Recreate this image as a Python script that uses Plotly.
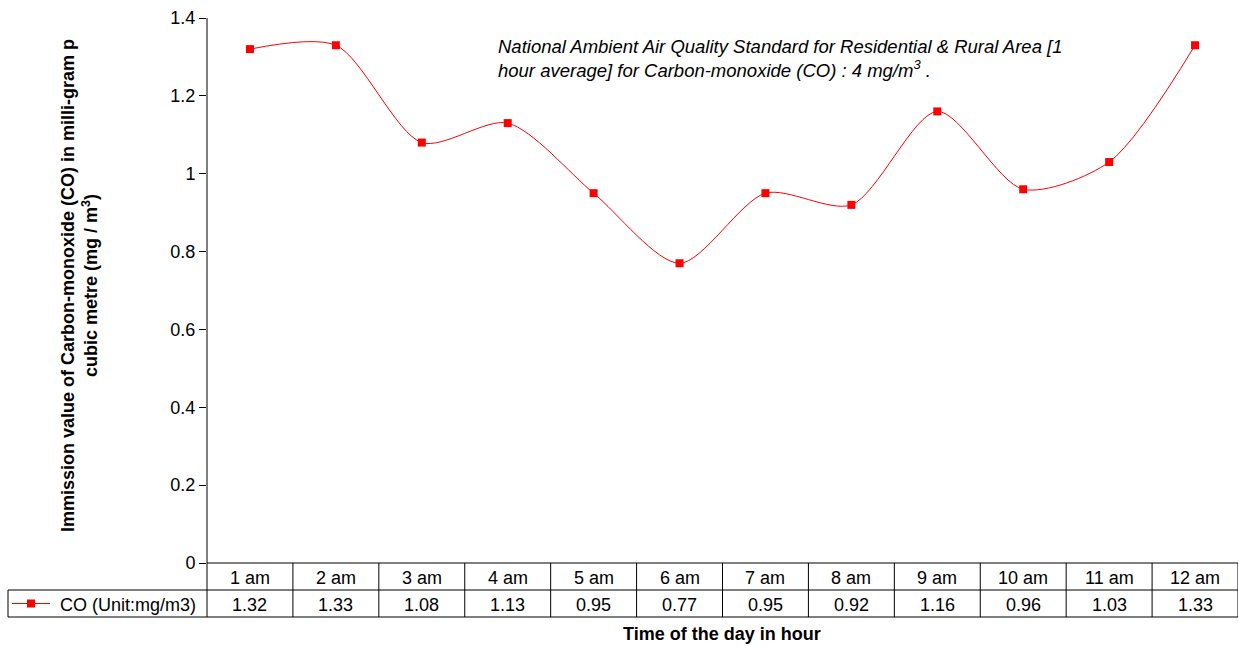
import plotly.graph_objects as go

categories = ["1 am", "2 am", "3 am", "4 am", "5 am", "6 am", "7 am", "8 am", "9 am", "10 am", "11 am", "12 am"]
co_values = [1.32, 1.33, 1.08, 1.13, 0.95, 0.77, 0.95, 0.92, 1.16, 0.96, 1.03, 1.33]
series_name = "CO (Unit:mg/m3)"
y_ticks = [0, 0.2, 0.4, 0.6, 0.8, 1.0, 1.2, 1.4]
y_tick_labels = ["0", "0.2", "0.4", "0.6", "0.8", "1", "1.2", "1.4"]

W, H = 1239, 646
RED = "#FF0000"
FONT = "Liberation Sans, Arial, sans-serif"

def px_x(p):
    return p / W

def px_y(p):
    return (H - p) / H

x_left, x_right = 207, 1238
y_top, y_zero = 18, 563
row1, row2 = 590, 617
legend_left = 8

n = len(categories)
xs = list(range(n))

fig = go.Figure()
fig.add_trace(go.Scatter(
    x=xs, y=co_values, mode="lines+markers",
    line=dict(color=RED, width=1, shape="spline", smoothing=0.8),
    marker=dict(symbol="square", size=8, color=RED),
    name=series_name, showlegend=False, cliponaxis=False,
))

shapes = []
line_style = dict(color="black", width=1)
shapes.append(dict(type="line", xref="paper", yref="paper", x0=px_x(x_left), x1=px_x(x_right),
                   y0=px_y(y_zero), y1=px_y(y_zero), line=line_style))
for yy in (row1, row2):
    shapes.append(dict(type="line", xref="paper", yref="paper", x0=px_x(legend_left), x1=px_x(x_right),
                       y0=px_y(yy), y1=px_y(yy), line=line_style))
shapes.append(dict(type="line", xref="paper", yref="paper", x0=px_x(legend_left), x1=px_x(legend_left),
                   y0=px_y(row1), y1=px_y(row2), line=line_style))
shapes.append(dict(type="line", xref="paper", yref="paper", x0=px_x(x_left), x1=px_x(x_left),
                   y0=px_y(y_top), y1=px_y(row2), line=line_style))
for k in range(1, n + 1):
    shapes.append(dict(type="line", xref="x", yref="paper", x0=k - 0.5, x1=k - 0.5,
                       y0=px_y(y_zero), y1=px_y(row2), line=line_style))
ly = (row1 + row2) / 2
shapes.append(dict(type="line", xref="paper", yref="paper", x0=px_x(12), x1=px_x(50),
                   y0=px_y(ly), y1=px_y(ly), line=dict(color=RED, width=1)))
shapes.append(dict(type="rect", xref="paper", yref="paper", x0=px_x(27), x1=px_x(35),
                   y0=px_y(ly + 4), y1=px_y(ly - 4), line=dict(width=0), fillcolor=RED))

tfont = dict(size=18, color="black", family=FONT)
annotations = []
for i, (c, v) in enumerate(zip(categories, co_values)):
    annotations.append(dict(x=i, y=px_y((y_zero + row1) / 2 + 1), xref="x", yref="paper", text=c,
                            xanchor="center", yanchor="middle", showarrow=False, font=tfont))
    annotations.append(dict(x=i, y=px_y(ly + 1), xref="x", yref="paper", text=f"{v:.2f}",
                            xanchor="center", yanchor="middle", showarrow=False, font=tfont))
annotations.append(dict(x=px_x(58), y=px_y(ly + 1), xref="paper", yref="paper", text=series_name,
                        xanchor="left", yanchor="middle", showarrow=False, font=tfont))
annotations.append(dict(x=px_x(722), y=px_y(634), xref="paper", yref="paper",
                        text="<b>Time of the day in hour</b>", showarrow=False,
                        xanchor="center", yanchor="middle", font=tfont))
annotations.append(dict(x=px_x(79), y=px_y(286), xref="paper", yref="paper", textangle=-90,
                        text="<b>Immission value of Carbon-monoxide (CO) in milli-gram p<br>cubic metre (mg / m<sup>3</sup>)</b>",
                        xanchor="center", yanchor="middle", showarrow=False, font=tfont))
annotations.append(dict(x=px_x(496), y=px_y(58), xref="paper", yref="paper", xanchor="left", yanchor="middle",
                        align="left",
                        text="<i>National Ambient Air Quality Standard for Residential &amp; Rural Area [1<br>hour average] for Carbon-monoxide (CO) : 4 mg/m<sup>3</sup> .</i>",
                        showarrow=False, font=dict(size=18.5, color="black", family=FONT)))

fig.update_layout(
    width=W, height=H, margin=dict(l=0, r=0, t=0, b=0, autoexpand=False),
    paper_bgcolor="white", plot_bgcolor="white",
    xaxis=dict(domain=[px_x(x_left), px_x(x_right)], range=[-0.5, n - 0.5], automargin=False,
               showticklabels=False, showgrid=False, zeroline=False, showline=False, ticks=""),
    yaxis=dict(domain=[px_y(y_zero), px_y(y_top)], range=[0, 1.4], automargin=False,
               tickvals=y_ticks, ticktext=y_tick_labels, ticks="outside", ticklen=7,
               tickcolor="black", showgrid=False, zeroline=False, showline=False,
               tickfont=dict(size=18, color="black", family=FONT)),
    shapes=shapes, annotations=annotations, showlegend=False,
)

fig.write_html("out.html")
